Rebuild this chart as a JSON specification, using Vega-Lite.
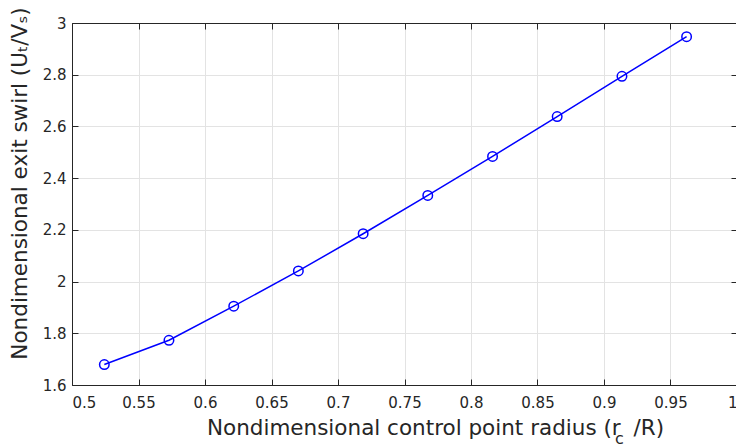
{
  "$schema": "https://vega.github.io/schema/vega-lite/v6.json",
  "width": 665,
  "height": 362,
  "autosize": {"type": "none"},
  "padding": {"left": 72, "top": 23, "right": 0, "bottom": 62},
  "background": "white",
  "config": {
    "view": {"stroke": "#262626", "strokeWidth": 1},
    "axis": {
      "domainColor": "#262626",
      "tickColor": "#262626",
      "labelColor": "#262626",
      "titleColor": "#262626",
      "labelFont": "DejaVu Sans",
      "titleFont": "DejaVu Sans",
      "labelFontSize": 15,
      "titleFontSize": 21.5,
      "titleFontWeight": "normal",
      "gridColor": "#e3e3e3",
      "gridWidth": 1,
      "tickSize": -6
    }
  },
  "data": {
    "values": [
      {"r": 0.5243, "u": 1.679},
      {"r": 0.5729, "u": 1.773},
      {"r": 0.6216, "u": 1.905},
      {"r": 0.6702, "u": 2.041},
      {"r": 0.7189, "u": 2.185},
      {"r": 0.7675, "u": 2.333},
      {"r": 0.8162, "u": 2.484},
      {"r": 0.8648, "u": 2.638},
      {"r": 0.9135, "u": 2.794},
      {"r": 0.9621, "u": 2.947}
    ]
  },
  "layer": [
    {
      "mark": {"type": "line", "color": "#0000ff", "strokeWidth": 1.5},
      "encoding": {
        "x": {
          "field": "r", "type": "quantitative",
          "scale": {"domain": [0.5, 1], "nice": false, "zero": false},
          "axis": {
            "orient": "bottom",
            "values": [0.5, 0.55, 0.6, 0.65, 0.7, 0.75, 0.8, 0.85, 0.9, 0.95, 1],
            "format": "~g",
            "labelPadding": 16,
            "title": "Nondimensional control point radius (r\u2002\u200a/R)",
            "titleX": 363,
            "titleY": 49,
            "titleAnchor": "middle",
            "titleBaseline": "alphabetic"
          }
        },
        "y": {
          "field": "u", "type": "quantitative",
          "scale": {"domain": [1.6, 3], "nice": false, "zero": false},
          "axis": {
            "orient": "left",
            "values": [1.6, 1.8, 2, 2.2, 2.4, 2.6, 2.8, 3],
            "format": "~g",
            "labelPadding": 12,
            "title": "Nondimensional exit swirl (Uₜ/Vₛ)",
            "titlePadding": 11,
            "titleY": 160,
            "titleAnchor": "middle"
          }
        }
      }
    },
    {
      "mark": {"type": "point", "shape": "circle", "filled": false, "color": "#0000ff", "size": 90, "strokeWidth": 1.5, "opacity": 1},
      "encoding": {
        "x": {
          "field": "r", "type": "quantitative",
          "axis": {
            "orient": "top",
            "values": [0.5, 0.55, 0.6, 0.65, 0.7, 0.75, 0.8, 0.85, 0.9, 0.95, 1],
            "labels": false,
            "grid": false,
            "title": "c",
            "titleFontSize": 16,
            "titleX": 547,
            "titleY": 420,
            "titleAnchor": "middle",
            "titleBaseline": "alphabetic"
          }
        },
        "y": {
          "field": "u", "type": "quantitative",
          "axis": {
            "orient": "right",
            "values": [1.6, 1.8, 2, 2.2, 2.4, 2.6, 2.8, 3],
            "labels": false,
            "grid": false,
            "title": null
          }
        }
      }
    }
  ]
}
